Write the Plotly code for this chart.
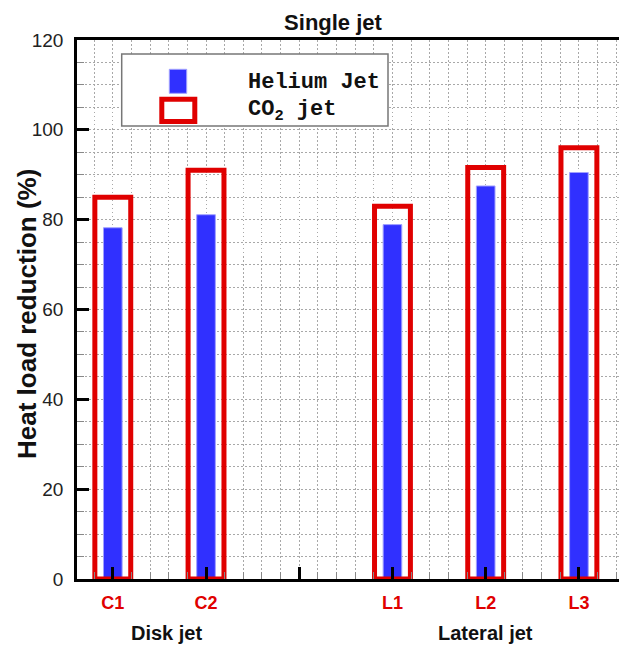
import plotly.graph_objects as go

# ---- data ----
categories = ["C1", "C2", "L1", "L2", "L3"]
positions = [1, 2, 4, 5, 6]
helium_jet = [78.2, 81.1, 78.9, 87.5, 90.5]
co2_jet = [85.0, 91.0, 83.0, 91.6, 96.0]
tick_positions = [1, 2, 3, 4, 5, 6]
tick_labels = ["C1", "C2", "", "L1", "L2", "L3"]
group_labels = ["Disk jet", "Lateral jet"]
group_positions = [1.58, 5.0]

RED = "#e00000"
BLUE = "rgb(48,48,255)"
GRID = "#a8a8a8"
DASH = "1.5px,2.5px"

fig = go.Figure()
fig.add_trace(go.Bar(
    x=positions, y=helium_jet, width=0.2, name="Helium Jet",
    marker=dict(color=BLUE, line=dict(color="rgb(160,160,255)", width=1)),
    showlegend=False,
))
fig.add_trace(go.Bar(
    x=positions, y=co2_jet, width=0.385, name="CO2 jet",
    marker=dict(color="rgba(0,0,0,0)", line=dict(color=RED, width=5)),
    showlegend=False,
))

W, H = 619, 646
L, T, B, R = 77, 40, 67, 0
pw, ph = W - L - R, H - T - B


def px(x):
    return (x - L) / pw


def py(y):
    return (H - B - y) / ph


fig.update_layout(
    width=W, height=H,
    margin=dict(l=L, r=R, t=T, b=B),
    barmode="overlay",
    plot_bgcolor="white", paper_bgcolor="white",
    font=dict(family="Liberation Sans", color="#222"),
    title=dict(text="Single jet", x=px(333), xref="paper", xanchor="center",
               y=1 - 22 / H, yanchor="middle",
               font=dict(size=22, weight="bold", color="#111")),
    xaxis=dict(
        range=[0.616, 6.43],
        tickvals=tick_positions, ticktext=tick_labels,
        tickfont=dict(size=18, color=RED, weight="bold"),
        ticks="inside", ticklen=12, tickwidth=2.5, tickcolor="black",
        ticklabelstandoff=6,
        showline=True, linecolor="black", linewidth=2.5, mirror=True,
        showgrid=True, gridcolor=GRID, griddash=DASH, gridwidth=1,
        minor=dict(dtick=0.2, ticks="inside", ticklen=7, tickcolor="#888",
                   tickwidth=1, showgrid=True, gridcolor=GRID,
                   griddash=DASH, gridwidth=1),
        zeroline=False,
    ),
    yaxis=dict(
        range=[0, 120], dtick=20,
        tickfont=dict(size=19, color="#222"),
        ticks="inside", ticklen=12, tickwidth=2.5, tickcolor="black",
        ticklabelstandoff=7,
        showline=True, linecolor="black", linewidth=2.5, mirror=False,
        showgrid=True, gridcolor=GRID, griddash=DASH, gridwidth=1,
        minor=dict(dtick=5, ticks="inside", ticklen=7, tickcolor="#888",
                   tickwidth=1, showgrid=True, gridcolor=GRID,
                   griddash=DASH, gridwidth=1),
        zeroline=False,
    ),
)

# y axis title
fig.add_annotation(text="Heat load reduction (%)", textangle=-90,
                   x=px(27), y=py(314), xref="paper", yref="paper",
                   xanchor="center", yanchor="middle",
                   showarrow=False, font=dict(size=26, weight="bold", color="#111"))

# group labels
for lab, pos in zip(group_labels, group_positions):
    fig.add_annotation(text=lab, x=pos, y=py(633), xref="x", yref="paper",
                       showarrow=False, xanchor="center", yanchor="middle",
                       font=dict(size=20, weight="bold", color="#111"))

# custom legend
fig.add_shape(type="rect", xref="paper", yref="paper",
              x0=px(121.7), x1=px(388), y0=py(126), y1=py(54),
              fillcolor="white", line=dict(color="#777", width=1.5), layer="above")
fig.add_shape(type="rect", xref="paper", yref="paper",
              x0=px(169.3), x1=px(186.7), y0=py(93.3), y1=py(69.3),
              fillcolor=BLUE, line=dict(color="rgb(160,160,255)", width=1), layer="above")
fig.add_shape(type="rect", xref="paper", yref="paper",
              x0=px(161.8), x1=px(194.8), y0=py(121.5), y1=py(99.2),
              fillcolor="white", line=dict(color=RED, width=5), layer="above")
fig.add_annotation(text="Helium Jet", x=px(246), y=py(82), xref="paper", yref="paper",
                   xanchor="left", yanchor="middle", showarrow=False,
                   font=dict(family="Liberation Mono", size=22, weight="bold", color="#111"))
fig.add_annotation(text="CO<sub>2</sub> jet", x=px(246), y=py(111), xref="paper", yref="paper",
                   xanchor="left", yanchor="middle", showarrow=False,
                   font=dict(family="Liberation Mono", size=22, weight="bold", color="#111"))

fig.write_html("out.html")
